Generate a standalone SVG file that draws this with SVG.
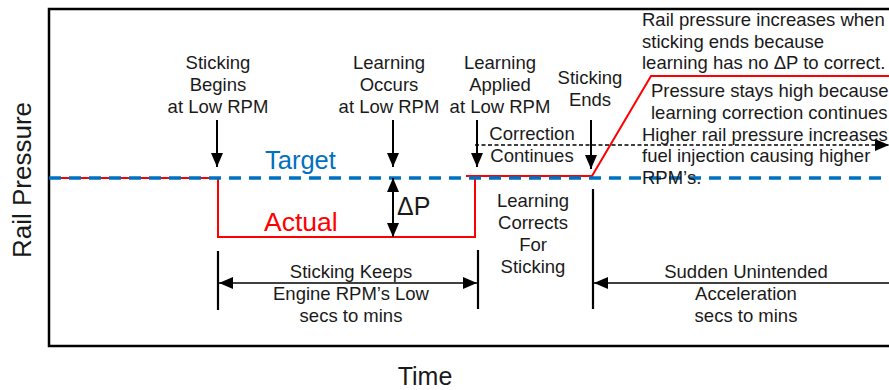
<svg xmlns="http://www.w3.org/2000/svg" width="889" height="390" viewBox="0 0 889 390">
<style>
.t{font-family:"Liberation Sans",Arial,sans-serif;font-size:18.5px;fill:#1a1a1a;text-anchor:middle}
.l{text-anchor:start}
.big{font-family:"Liberation Sans",Arial,sans-serif;font-size:25px}
.ar{stroke:#000;stroke-width:2;fill:none}
.thin{stroke:#000;stroke-width:1.3;fill:none}
.tick{stroke:#000;stroke-width:2.2;fill:none}
</style>
<defs>
<marker id="ah" viewBox="0 0 14 12" refX="14" refY="6" markerWidth="14" markerHeight="12" markerUnits="userSpaceOnUse" orient="auto-start-reverse">
<path d="M0,0 L14,6 L0,12 Z" fill="#000"/>
</marker>
</defs>
<rect width="889" height="390" fill="#fff"/>
<g id="frame">
<rect x="49" y="9" width="860" height="337" fill="none" stroke="#000" stroke-width="2.5"/>
</g>
<g id="axis-labels">
<text class="big" x="22" y="180" transform="rotate(-90 22 180)" text-anchor="middle" dominant-baseline="central" fill="#1a1a1a" style="font-size:26px">Rail Pressure</text>
<text class="big" x="425" y="385" text-anchor="middle" fill="#1a1a1a">Time</text>
</g>
<g id="actual-curve">
<path d="M49,178 H218 V237 H475 V176 M466,176 H592 L651,76 H900" fill="none" stroke="#ff0000" stroke-width="2"/>
</g>
<g id="target-line">
<line x1="49" y1="178" x2="889" y2="178" stroke="#0070c0" stroke-width="3.5" stroke-dasharray="12 8"/>
</g>
<g id="connectors">
<line class="ar" x1="217" y1="120" x2="217" y2="167" marker-end="url(#ah)"/>
<line class="ar" x1="393" y1="120" x2="393" y2="167" marker-end="url(#ah)"/>
<line class="ar" x1="477" y1="120" x2="477" y2="167" marker-end="url(#ah)"/>
<line class="ar" x1="591" y1="120" x2="591" y2="169" marker-end="url(#ah)"/>
<line class="ar" x1="393" y1="178" x2="393" y2="237" marker-start="url(#ah)" marker-end="url(#ah)"/>
<line x1="475" y1="145" x2="889" y2="145" stroke="#000" stroke-width="1.6" stroke-dasharray="4 2.5" marker-end="url(#ah)"/>
<line class="tick" x1="218" y1="251" x2="218" y2="310"/>
<line class="tick" x1="478" y1="250" x2="478" y2="309"/>
<line class="tick" x1="593" y1="189" x2="593" y2="309"/>
<line class="thin" x1="219" y1="283" x2="477" y2="283" marker-start="url(#ah)" marker-end="url(#ah)"/>
<line class="thin" x1="900" y1="283" x2="594" y2="283" marker-end="url(#ah)"/>
</g>
<g id="target-label"><text class="big" x="265" y="169" fill="#0070c0" style="font-size:25.5px">Target</text></g>
<g id="actual-label"><text class="big" x="264" y="231" fill="#ff0000" style="font-size:26.5px">Actual</text></g>
<g id="dp-label"><text class="big" x="397" y="215" fill="#1a1a1a">ΔP</text></g>
<g id="sticking-begins">
<text class="t" x="218" y="69">Sticking</text>
<text class="t" x="218" y="91">Begins</text>
<text class="t" x="218" y="113">at Low RPM</text>
</g>
<g id="learning-occurs">
<text class="t" x="389" y="69">Learning</text>
<text class="t" x="389" y="91">Occurs</text>
<text class="t" x="389" y="113">at Low RPM</text>
</g>
<g id="learning-applied">
<text class="t" x="500" y="69">Learning</text>
<text class="t" x="500" y="91">Applied</text>
<text class="t" x="500" y="113">at Low RPM</text>
</g>
<g id="sticking-ends">
<text class="t" x="590" y="84">Sticking</text>
<text class="t" x="590" y="106">Ends</text>
</g>
<g id="correction-continues">
<text class="t" x="532" y="140">Correction</text>
<text class="t" x="532" y="162">Continues</text>
</g>
<g id="rail-increases">
<text class="t l" x="642" y="26">Rail pressure increases when</text>
<text class="t l" x="642" y="48">sticking ends because</text>
<text class="t l" x="642" y="69">learning has no ΔP to correct.</text>
</g>
<g id="pressure-stays">
<text class="t l" x="651" y="97">Pressure stays high because</text>
<text class="t l" x="651" y="119">learning correction continues</text>
</g>
<g id="higher-pressure">
<text class="t l" x="642" y="141">Higher rail pressure increases</text>
<text class="t l" x="642" y="162">fuel injection causing higher</text>
<text class="t l" x="642" y="184">RPM’s.</text>
</g>
<g id="learning-corrects">
<text class="t" x="533" y="207">Learning</text>
<text class="t" x="533" y="229">Corrects</text>
<text class="t" x="533" y="251">For</text>
<text class="t" x="533" y="273">Sticking</text>
</g>
<g id="sticking-keeps">
<text class="t" x="351" y="278">Sticking Keeps</text>
<text class="t" x="351" y="300">Engine RPM’s Low</text>
<text class="t" x="351" y="322">secs to mins</text>
</g>
<g id="sudden-acceleration">
<text class="t" x="746" y="278">Sudden Unintended</text>
<text class="t" x="746" y="300">Acceleration</text>
<text class="t" x="746" y="322">secs to mins</text>
</g>
</svg>
